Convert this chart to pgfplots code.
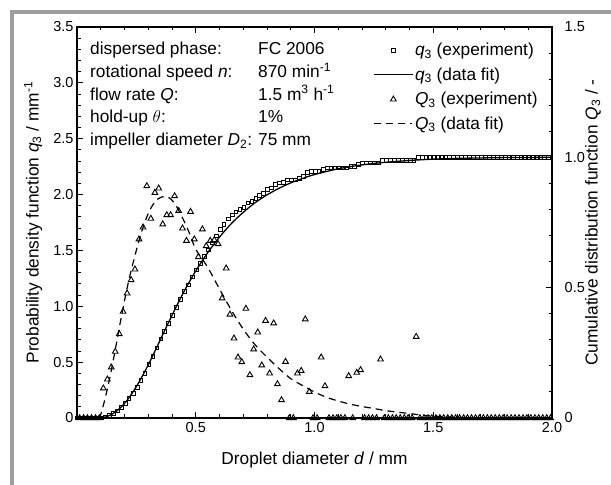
\documentclass[border=0pt]{standalone}
\usepackage{fontspec}
\setmainfont{Liberation Sans}
\usepackage{pgfplots}
\pgfplotsset{compat=1.18}

\definecolor{framegray}{RGB}{158,158,158}
\newcommand{\lbl}{\fontsize{17.3bp}{20bp}\selectfont}
\newcommand{\tck}{\fontsize{14.5bp}{17bp}\selectfont}

\pgfplotsset{
  common/.style={
    scale only axis, width=475bp, height=391bp,
    at={(77bp,67bp)}, anchor=south west,
    xmin=0, xmax=2,
    tick align=inside,
    major tick length=6bp, minor tick length=3.5bp,
    every tick/.style={black, line width=0.9bp},
    axis line style={line width=1.5bp},
    tick label style={font=\tck},
    label style={font=\lbl},
    /pgf/number format/assume math mode=true,
  }
}

\begin{document}
\begin{tikzpicture}
\path[use as bounding box] (0,0) rectangle (611bp,485bp);
\fill[framegray] (10bp,0) rectangle (14bp,475bp);
\fill[framegray] (10bp,471bp) rectangle (611bp,475bp);

% left axis: density q3 (triangles and dashed fit)
\begin{axis}[common,
  ymin=0, ymax=3.5,
  xtick={0.5,1,1.5,2}, xticklabels={0.5,1.0,1.5,2.0},
  minor xtick={0.1,0.2,0.3,0.4,0.6,0.7,0.8,0.9,1.1,1.2,1.3,1.4,1.6,1.7,1.8,1.9},
  xtick pos=both, xticklabel pos=bottom,
  xticklabel style={inner sep=1bp, yshift=-3bp},
  ytick={0,0.5,1,1.5,2,2.5,3,3.5},
  yticklabels={0,0.5,1.0,1.5,2.0,2.5,3.0,3.5},
  minor y tick num=4,
  ytick pos=left,
  xlabel={Droplet diameter \textit{d} / mm},
  ylabel={Probability density function \textit{q}\textsubscript{3} / mm\textsuperscript{-1}},
  xlabel style={at={(axis description cs:0.5,-0.107)}, anchor=center},
  ylabel style={at={(axis description cs:-0.0926,0.5)}, anchor=center},
]
\addplot[only marks, mark=triangle, mark size=3.3bp, mark options={line width=0.9bp, black}]
  coordinates {
  (0.011,0) (0.028,0) (0.044,0) (0.061,0) (0.078,0) (0.094,0)
  (0.111,0.266) (0.128,0.346) (0.144,0.454) (0.161,0.594) (0.178,0.752)
  (0.194,0.952) (0.211,1.116) (0.228,1.235) (0.244,1.331) (0.261,1.600)
  (0.278,1.707) (0.294,2.077) (0.311,1.785) (0.328,2.017) (0.344,2.056)
  (0.361,1.735) (0.378,1.817) (0.394,1.817) (0.411,1.987) (0.428,1.855)
  (0.444,1.698) (0.461,1.587) (0.478,1.847) (0.494,1.600) (0.511,1.442)
  (0.528,1.690) (0.544,1.540) (0.561,1.587) (0.578,1.594) (0.594,1.558)
  (0.611,1.072) (0.628,1.340) (0.644,0.927) (0.661,0.713) (0.678,0.543)
  (0.694,0.501) (0.711,0.979) (0.728,0.385) (0.744,0.615) (0.761,0.767)
  (0.778,0.472) (0.794,0.871) (0.811,0.400) (0.828,0.848) (0.844,0.304)
  (0.861,0.161) (0.878,0.504) (0.894,0) (0.911,0) (0.928,0.400)
  (0.944,0.423) (0.961,0.884) (0.978,0.235) (0.994,0) (1.011,0)
  (1.028,0.543) (1.044,0.286) (1.061,0) (1.078,0) (1.094,0)
  (1.111,0) (1.128,0) (1.144,0.376) (1.161,0) (1.178,0.406)
  (1.194,0.430) (1.211,0) (1.228,0) (1.244,0) (1.261,0)
  (1.278,0.525) (1.294,0) (1.311,0) (1.328,0) (1.344,0)
  (1.361,0) (1.378,0) (1.394,0) (1.411,0) (1.428,0.728)
  (1.444,0) (1.461,0) (1.478,0) (1.494,0) (1.511,0) (1.528,0) (1.544,0)
  (1.561,0) (1.578,0) (1.594,0) (1.611,0) (1.628,0) (1.644,0) (1.661,0)
  (1.678,0) (1.694,0) (1.711,0) (1.728,0) (1.744,0) (1.761,0) (1.778,0)
  (1.794,0) (1.811,0) (1.828,0) (1.844,0) (1.861,0) (1.878,0) (1.894,0)
  (1.911,0) (1.928,0) (1.944,0) (1.961,0) (1.978,0) (1.994,0)
  };
\addplot[black, line width=1.2bp, dash pattern=on 7bp off 5bp, smooth]
  coordinates {
  (0.09,0) (0.10,0.03) (0.12,0.19) (0.14,0.38) (0.16,0.60) (0.18,0.83)
  (0.20,1.05) (0.22,1.25) (0.24,1.42) (0.26,1.58) (0.28,1.72) (0.30,1.83)
  (0.32,1.91) (0.34,1.96) (0.36,1.98) (0.38,1.98) (0.40,1.95) (0.42,1.89)
  (0.44,1.81) (0.46,1.72) (0.48,1.62) (0.50,1.51) (0.55,1.35) (0.60,1.155)
  (0.65,0.965) (0.70,0.795) (0.75,0.655) (0.80,0.545) (0.85,0.443)
  (0.90,0.352) (0.95,0.29) (1.00,0.232) (1.05,0.186) (1.10,0.152)
  (1.15,0.124) (1.20,0.103) (1.25,0.085) (1.30,0.066) (1.35,0.052)
  (1.40,0.04) (1.45,0.026) (1.50,0.017) (1.60,0.006) (1.70,0)
  };
\end{axis}

% right axis: cumulative Q3 (squares and solid fit)
\begin{axis}[common,
  ymin=0, ymax=1.5,
  xtick=\empty,
  ytick={0,0.5,1,1.5}, yticklabels={0,0.5,1.0,1.5},
  yticklabel style={inner sep=1bp, xshift=11.5bp},
  minor y tick num=4,
  ytick pos=right, yticklabel pos=right,
  ylabel={Cumulative distribution function \textit{Q}\textsubscript{3} / -},
  ylabel style={at={(axis description cs:1.0863,0.5)}, anchor=center},
  legend style={font=\lbl, draw=none, fill=none,
    at={(axis description cs:0.618,0.969)}, anchor=north west,
    row sep=6.5bp, cells={anchor=west}},
  legend image code/.code={
    \draw[mark repeat=2,mark phase=2,#1] plot coordinates {(0bp,0bp) (19bp,0bp) (38bp,0bp)};},
]
\addplot[only marks, mark=square, mark size=1.85bp, mark options={line width=0.8bp, black}]
  coordinates {
  (0.003,0) (0.019,0) (0.036,0) (0.053,0) (0.069,0) (0.086,0) (0.103,0)
  (0.119,0.0044) (0.136,0.0102) (0.153,0.0177) (0.169,0.0275) (0.186,0.0400)
  (0.203,0.0558) (0.219,0.0743) (0.236,0.0948) (0.253,0.1169) (0.269,0.1434)
  (0.286,0.1717) (0.303,0.2062) (0.319,0.2358) (0.336,0.2693) (0.353,0.3034)
  (0.369,0.3322) (0.386,0.3623) (0.403,0.3925) (0.419,0.4254) (0.436,0.4562)
  (0.453,0.4844) (0.469,0.5107) (0.486,0.5413) (0.503,0.5679) (0.519,0.5918)
  (0.536,0.6198) (0.553,0.6454) (0.569,0.6717) (0.586,0.6981) (0.603,0.7240)
  (0.619,0.7418) (0.636,0.7640) (0.653,0.7794) (0.669,0.7912) (0.686,0.8002)
  (0.703,0.8085) (0.719,0.8248) (0.736,0.8312) (0.753,0.8414) (0.769,0.8541)
  (0.786,0.8619) (0.803,0.8764) (0.819,0.8830) (0.836,0.8971) (0.853,0.9021)
  (0.869,0.9048) (0.886,0.9131) (0.903,0.9131) (0.919,0.9131) (0.936,0.9198)
  (0.953,0.9268) (0.969,0.9415) (0.986,0.9454) (1.003,0.9454) (1.019,0.9454)
  (1.036,0.9544) (1.053,0.9591) (1.069,0.9591) (1.086,0.9591) (1.103,0.9591)
  (1.119,0.9591) (1.136,0.9591) (1.153,0.9653) (1.169,0.9653) (1.186,0.9721)
  (1.203,0.9792) (1.219,0.9792) (1.236,0.9792) (1.253,0.9792) (1.269,0.9792)
  (1.286,0.9879) (1.303,0.9879) (1.319,0.9879) (1.336,0.9879) (1.353,0.9879)
  (1.369,0.9879) (1.386,0.9879) (1.403,0.9879) (1.419,0.9879) (1.436,1)
  (1.453,1) (1.469,1) (1.486,1) (1.503,1) (1.519,1) (1.536,1) (1.553,1)
  (1.569,1) (1.586,1) (1.603,1) (1.619,1) (1.636,1) (1.653,1) (1.669,1)
  (1.686,1) (1.703,1) (1.719,1) (1.736,1) (1.753,1) (1.769,1) (1.786,1)
  (1.803,1) (1.819,1) (1.836,1) (1.853,1) (1.869,1) (1.886,1) (1.903,1)
  (1.919,1) (1.936,1) (1.953,1) (1.969,1) (1.986,1)
  };
\addlegendentry{\textit{q}\textsubscript{3} (experiment)}
\addplot[black, line width=1.3bp, smooth]
  coordinates {
  (0.08,0) (0.10,0.001) (0.12,0.004) (0.14,0.011) (0.16,0.022) (0.18,0.037)
  (0.20,0.056) (0.22,0.079) (0.24,0.106) (0.26,0.136) (0.28,0.169)
  (0.30,0.204) (0.32,0.241) (0.34,0.279) (0.36,0.318) (0.38,0.356)
  (0.40,0.394) (0.42,0.431) (0.44,0.467) (0.46,0.501) (0.48,0.533)
  (0.50,0.564) (0.55,0.634) (0.60,0.694) (0.65,0.746) (0.70,0.789)
  (0.75,0.826) (0.80,0.856) (0.85,0.881) (0.90,0.902) (0.95,0.919)
  (1.00,0.934) (1.10,0.956) (1.20,0.971) (1.30,0.981) (1.40,0.988)
  (1.50,0.993) (1.60,0.996) (1.80,0.999) (2.00,1.0)
  };
\addlegendentry{\textit{q}\textsubscript{3} (data fit)}
\addlegendimage{only marks, mark=triangle, mark size=3.3bp, mark options={line width=0.9bp, black}}
\addlegendentry{\textit{Q}\textsubscript{3} (experiment)}
\addlegendimage{black, line width=1.2bp, dash pattern=on 7bp off 5bp}
\addlegendentry{\textit{Q}\textsubscript{3} (data fit)}
\end{axis}

% annotation block
\begin{scope}[every node/.style={font=\lbl, anchor=base west, inner sep=0pt}]
\node at (90bp,430.5bp) {dispersed phase:};
\node at (258bp,430.5bp) {FC 2006};
\node at (90bp,407.7bp) {rotational speed \textit{n}:};
\node at (258bp,407.7bp) {870 min\textsuperscript{-1}};
\node at (90bp,384.8bp) {flow rate \textit{Q}:};
\node at (258bp,384.8bp) {1.5 m\textsuperscript{3} h\textsuperscript{-1}};
\node at (90bp,362bp) {hold-up $\theta$:};
\node at (258bp,362bp) {1\%};
\node at (90bp,339.2bp) {impeller diameter \textit{D}\textsubscript{2}:};
\node at (258bp,339.2bp) {75 mm};
\end{scope}
\end{tikzpicture}
\end{document}
